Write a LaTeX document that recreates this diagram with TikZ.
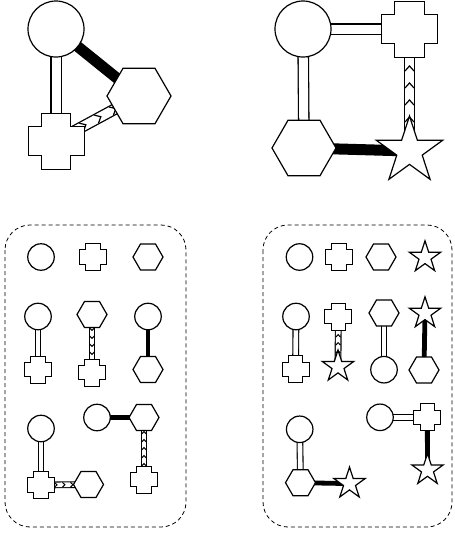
\documentclass[tikz,border=0pt]{standalone}
\usetikzlibrary{shapes.geometric,backgrounds,decorations.markings}

\tikzset{
  shp/.style={draw, fill=white, line width=1.2pt, inner sep=0pt},
  circ/.style={shp, circle, minimum size=#1},
  hexa/.style={shp, regular polygon, regular polygon sides=6, minimum size=#1},
  starr/.style={shp, star, star points=5, star point ratio=2.618, minimum size=#1},
  % big connectors
  dblbig/.style={line width=1.3pt, double=white, double distance=9pt},
  blkbig/.style={line width=11pt},
  chevbig/.style={dblbig, postaction={decorate, decoration={markings,
      mark=between positions 0 and 1 step 17pt with {
        \draw[line width=1.2pt] (-5pt,4.5pt) -- (0pt,0pt) -- (-5pt,-4.5pt);}}}},
  % small connectors
  dblsml/.style={line width=1.1pt, double=white, double distance=4.6pt},
  blksml/.style={line width=4.8pt},
  chevsml/.style={dblsml, postaction={decorate, decoration={markings,
      mark=between positions 0 and 1 step 8pt with {
        \draw[line width=1pt] (-2.5pt,2.3pt) -- (0pt,0pt) -- (-2.5pt,-2.3pt);}}}},
  panel/.style={draw, line width=0.8pt, dash pattern=on 4pt off 3pt, rounded corners=25pt}
}

% a plus-shaped node: name, position, size
\newcommand\plusnode[3]{%
  \node[inner sep=0pt, minimum size=#3pt] (#1) at #2 {};
  \draw[line width=1pt, fill=white, shift={(#1.center)}, scale=#3/2]
    (-0.52,-1) -- (0.52,-1) -- (0.52,-0.52) -- (1,-0.52) -- (1,0.52) -- (0.52,0.52)
    -- (0.52,1) -- (-0.52,1) -- (-0.52,0.52) -- (-1,0.52) -- (-1,-0.52) -- (-0.52,-0.52) -- cycle;
}

\begin{document}
\begin{tikzpicture}[x=1pt, y=-1pt]
\useasboundingbox (0,0) rectangle (455,533);

% ---------- upper left graph ----------
\node[circ=56pt] (a1) at (56,29) {};
\node[hexa=64pt] (a2) at (139,96) {};
\plusnode{a3}{(56,141)}{56}

% ---------- upper right graph ----------
\node[circ=56pt] (b1) at (303,29) {};
\plusnode{b2}{(409.5,29)}{56}
\node[hexa=64pt] (b3) at (304,148) {};
\node[starr=70pt] (b4) at (409.5,151) {};

% ---------- lower left panel ----------
\draw[panel] (5,225) rectangle (186,527);
\node[circ=26.5pt] (p1) at (41,257) {};
\plusnode{p2}{(93,257)}{27}
\node[hexa=30pt] (p3) at (148,257) {};

\node[circ=26.5pt] (q1) at (38,316.5) {};
\plusnode{q2}{(38,369.5)}{27}
\node[hexa=30pt] (q3) at (92,314.5) {};
\plusnode{q4}{(92,372.5)}{27}
\node[circ=26.5pt] (q5) at (148,316.5) {};
\node[hexa=30pt] (q6) at (148,369.5) {};

\node[circ=26.5pt] (r1) at (41,428.5) {};
\plusnode{r2}{(41,485)}{27}
\node[hexa=30pt] (r3) at (88.5,484.5) {};
\node[circ=26.5pt] (r4) at (97,417.5) {};
\node[hexa=30pt] (r5) at (144,417.5) {};
\plusnode{r6}{(144,479.5)}{27}

% ---------- lower right panel ----------
\draw[panel] (263,225) rectangle (452,527);
\node[circ=26.5pt] (s1) at (299.5,257) {};
\plusnode{s2}{(339,257)}{27}
\node[hexa=30pt] (s3) at (381,257) {};
\node[starr=33pt] (s4) at (425,257.3) {};

\node[circ=26.5pt] (t1) at (296,316.5) {};
\plusnode{t2}{(295.5,369.3)}{27}
\plusnode{t3}{(338.3,316.5)}{27}
\node[starr=33pt] (t4) at (338,366.6) {};
\node[hexa=30pt] (t5) at (384,313) {};
\node[circ=26.5pt] (t6) at (384,369.7) {};
\node[starr=33pt] (t7) at (425,313.3) {};
\node[hexa=30pt] (t8) at (424,370) {};

\node[circ=26.5pt] (u1) at (299.7,429.3) {};
\node[hexa=30pt] (u2) at (300.5,482.7) {};
\node[starr=33pt] (u3) at (349.5,483.6) {};
\node[circ=26.5pt] (u4) at (380,417.3) {};
\plusnode{u5}{(427.3,417.3)}{27}
\node[starr=33pt] (u6) at (427.5,470) {};

% ---------- connectors, behind the shapes ----------
\begin{pgfonlayer}{background}
  \draw[dblbig] (a1.center) -- (a3.center);
  \draw[blkbig] (a1.center) -- (a2.center);
  \draw[chevbig] (a3.center) -- (a2.center);

  \draw[dblbig] (b1.center) -- (b2.center);
  \draw[dblbig] (b1.center) -- (b3.center);
  \draw[chevbig] (b4.center) -- (b2.center);
  \draw[blkbig] (b3.center) -- (b4.center);

  \draw[dblsml] (q1.center) -- (q2.center);
  \draw[chevsml] (q3.center) -- (q4.center);
  \draw[blksml] (q5.center) -- (q6.center);

  \draw[dblsml] (r1.center) -- (r2.center);
  \draw[chevsml] (r2.center) -- (r3.center);
  \draw[blksml] (r4.center) -- (r5.center);
  \draw[chevsml] (r6.center) -- (r5.center);

  \draw[dblsml] (t1.center) -- (t2.center);
  \draw[chevsml] (t4.center) -- (t3.center);
  \draw[dblsml] (t5.center) -- (t6.center);
  \draw[blksml] (t7.center) -- (t8.center);

  \draw[dblsml] (u1.center) -- (u2.center);
  \draw[blksml] (u2.center) -- (u3.center);
  \draw[dblsml] (u4.center) -- (u5.center);
  \draw[blksml] (u5.center) -- (u6.center);
\end{pgfonlayer}
\end{tikzpicture}
\end{document}
